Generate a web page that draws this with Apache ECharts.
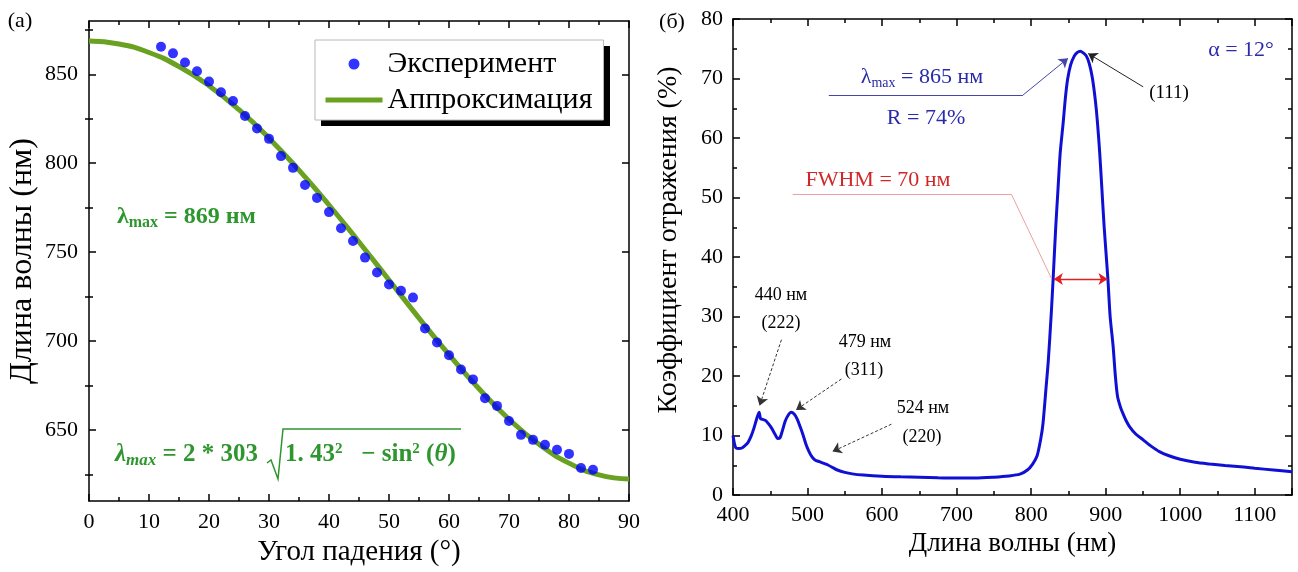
<!DOCTYPE html>
<html>
<head>
<meta charset="utf-8">
<title>Брэгговский пик</title>
<script src="https://cdn.jsdelivr.net/npm/echarts@6/dist/echarts.min.js"></script>
<style>
  html, body { margin: 0; padding: 0; background: #fff; }
  #chart { width: 1298px; height: 572px; }
</style>
</head>
<body>
<div id="chart"></div>
<script>
// (a) угловая зависимость
const expAngle = [12, 14, 16, 18, 20, 22, 24, 26, 28, 30, 32, 34, 36, 38, 40, 42, 44, 46, 48,
  50, 52, 54, 56, 58, 60, 62, 64, 66, 68, 70, 72, 74, 76, 78, 80, 82, 84]
const expLambda = [865.5, 861.8, 856.7, 851.7, 845.9, 839.9, 835.0, 826.6, 819.5, 813.7, 804.0,
  797.4, 787.8, 780.5, 772.5, 763.4, 756.2, 746.9, 738.5, 731.8, 728.3, 724.4, 707.0, 699.2,
  692.0, 684.0, 678.4, 667.8, 663.5, 655.0, 647.2, 644.4, 641.6, 638.8, 636.5, 628.6, 627.6]
const fitAngle = [0, 5, 10, 15, 20, 25, 30, 35, 40, 45, 50, 55, 60, 65, 70, 75, 80, 85, 90]
const fitLambda = [868.7, 867.1, 862.3, 854.4, 843.6, 830.1, 814.1, 796.1, 776.5, 755.7,
  734.3, 712.9, 692.3, 673.1, 656.0, 641.9, 631.3, 624.7, 622.4]
const yTicksA = [650, 700, 750, 800, 850]
const yMinorA = [625, 675, 725, 775, 825, 875]

// (б) спектр отражения
const specWl = [400, 402, 404, 408, 412, 416, 420, 424, 428, 432, 435, 437, 440, 444, 448, 452,
  456, 460, 463, 466, 470, 474, 478, 482, 486, 490, 494, 498, 502, 506, 510, 516, 522, 528, 534,
  540, 550, 560, 575, 600, 625, 650, 675, 700, 725, 750, 770, 785, 795, 802, 808, 813, 816, 820,
  823, 827, 829.5, 833, 836, 839, 843, 846, 849, 853, 858, 862, 866, 870, 874, 878, 882, 886,
  889, 892, 895, 898, 903, 906, 910, 913, 916, 920, 923, 927, 932, 940, 950, 960, 972, 985,
  1000, 1020, 1040, 1060, 1085, 1100, 1125, 1150]
const specR = [10.0, 8.6, 7.9, 7.8, 7.9, 8.3, 8.8, 9.8, 11.2, 12.9, 13.9, 12.8, 12.7, 12.5,
  11.9, 11.2, 10.3, 9.5, 9.6, 10.7, 12.4, 13.4, 13.9, 13.6, 12.8, 11.5, 10.1, 8.5, 7.3, 6.4,
  5.9, 5.6, 5.3, 5.0, 4.6, 4.2, 3.8, 3.55, 3.35, 3.15, 3.05, 3.0, 2.9, 2.85, 2.85, 3.0, 3.2,
  3.5, 4.2, 5.2, 6.6, 9.5, 12.1, 18.0, 22.5, 30.5, 36.3, 45.0, 51.3, 57.5, 62.6, 66.8, 69.9,
  72.3, 73.8, 74.4, 74.6, 74.3, 73.8, 72.5, 70.2, 66.5, 62.6, 57.5, 51.3, 45.0, 36.3, 30.0,
  25.0, 20.0, 16.5, 14.7, 13.75, 12.6, 11.5, 10.3, 9.3, 8.3, 7.3, 6.6, 6.0, 5.5, 5.2, 4.95,
  4.7, 4.5, 4.2, 3.9]

const FONT = 'Liberation Serif'
const BLACK = { color: '#000', width: 1.5 }
const GREEN_TXT = '#2e962e'
const FIT_GREEN = '#6aa121'
const BLUE_TXT = '#2a2aaa'

const chart = echarts.init(document.getElementById('chart'))

// рамка: ось с тиками внутрь, без подписей
const frameAxis = (extra) => Object.assign({
  type: 'value',
  axisLine: { show: true, onZero: false, lineStyle: BLACK },
  axisTick: { show: true, inside: true, length: 7, lineStyle: BLACK },
  minorTick: { show: true, splitNumber: 2, length: 4, lineStyle: BLACK },
  axisLabel: { show: false },
  splitLine: { show: false },
}, extra)

const label = { show: true, fontSize: 22, color: '#000', fontFamily: FONT, formatter: (v) => String(v) }

const arrow = (from, to, style, ends) => [
  { coord: from, lineStyle: style, symbol: ends[0], symbolSize: 9 },
  { coord: to, symbol: ends[1], symbolSize: 9 },
]

chart.setOption({
  animation: false,
  textStyle: { fontFamily: FONT },
  grid: [
    { left: 89, top: 21, width: 540, height: 480 },
    { left: 733, top: 19, width: 559, height: 476 },
  ],
  legend: {
    data: [
      { name: 'Эксперимент' },
      { name: 'Аппроксимация', itemStyle: { opacity: 0 }, lineStyle: { width: 5, color: FIT_GREEN } },
    ],
    orient: 'vertical',
    left: 315,
    top: 40,
    z: 5,
    padding: [9, 11, 5, 8],
    itemGap: 6,
    itemWidth: 57,
    itemHeight: 11,
    selectedMode: false,
    textStyle: { fontSize: 30, color: '#000', fontFamily: FONT },
    backgroundColor: '#fff',
    borderColor: '#b8b8b8',
    borderWidth: 1,
  },
  xAxis: [
    frameAxis({
      gridIndex: 0, min: 0, max: 90, interval: 10, position: 'bottom',
      name: 'Угол падения (°)', nameLocation: 'middle', nameGap: 33,
      nameTextStyle: { fontSize: 29, color: '#000', fontFamily: FONT },
      axisLabel: Object.assign({ margin: 10 }, label),
    }),
    frameAxis({ gridIndex: 0, min: 0, max: 90, interval: 10, position: 'top' }),
    frameAxis({
      gridIndex: 1, min: 400, max: 1150, interval: 100, position: 'bottom',
      name: 'Длина волны (нм)', nameLocation: 'middle', nameGap: 35,
      nameTextStyle: { fontSize: 27, color: '#000', fontFamily: FONT },
      axisLabel: Object.assign({ margin: 9, showMaxLabel: false }, label),
    }),
    frameAxis({ gridIndex: 1, min: 400, max: 1150, interval: 100, position: 'top' }),
  ],
  yAxis: [
    frameAxis({
      gridIndex: 0, min: 610, max: 880, position: 'left',
      name: 'Длина волны (нм)', nameLocation: 'middle', nameGap: 50,
      nameTextStyle: { fontSize: 32, color: '#000', fontFamily: FONT },
      axisTick: { inside: true, length: 7, lineStyle: BLACK, customValues: yTicksA },
      minorTick: { show: false },
      axisLabel: Object.assign({ margin: 11, customValues: yTicksA }, label),
    }),
    frameAxis({
      gridIndex: 0, min: 610, max: 880, position: 'left',
      axisLine: { show: false },
      axisTick: { inside: true, length: 4, lineStyle: BLACK, customValues: yMinorA },
      minorTick: { show: false },
    }),
    frameAxis({
      gridIndex: 0, min: 610, max: 880, position: 'right',
      axisTick: { inside: true, length: 7, lineStyle: BLACK, customValues: yTicksA },
      minorTick: { show: false },
    }),
    frameAxis({
      gridIndex: 0, min: 610, max: 880, position: 'right',
      axisLine: { show: false },
      axisTick: { inside: true, length: 4, lineStyle: BLACK, customValues: yMinorA },
      minorTick: { show: false },
    }),
    frameAxis({
      gridIndex: 1, min: 0, max: 80, interval: 10, position: 'left',
      name: 'Коэффициент отражения (%)', nameLocation: 'middle', nameGap: 50,
      nameTextStyle: { fontSize: 28, color: '#000', fontFamily: FONT, padding: [0, 0, 0, 34] },
      axisLabel: Object.assign({ margin: 10 }, label),
    }),
    frameAxis({ gridIndex: 1, min: 0, max: 80, interval: 10, position: 'right' }),
  ],
  series: [
    {
      name: 'Аппроксимация',
      type: 'line',
      xAxisIndex: 0, yAxisIndex: 0,
      data: fitAngle.map((a, i) => [a, fitLambda[i]]),
      smooth: true,
      symbol: 'none',
      lineStyle: { color: FIT_GREEN, width: 5 },
      itemStyle: { color: FIT_GREEN },
      z: 2,
    },
    {
      name: 'Эксперимент',
      type: 'scatter',
      xAxisIndex: 0, yAxisIndex: 0,
      data: expAngle.map((a, i) => [a, expLambda[i]]),
      symbolSize: 10,
      itemStyle: { color: '#0000ff' },
      z: 3,
    },
    {
      name: 'spectrum',
      type: 'line',
      xAxisIndex: 2, yAxisIndex: 4,
      data: specWl.map((w, i) => [w, specR[i]]),
      smooth: 0.25,
      symbol: 'none',
      lineStyle: { color: '#1010d4', width: 3 },
      markLine: {
        silent: true,
        animation: false,
        label: { show: false },
        emphasis: { disabled: true },
        data: [
          arrow([528.5, 67.2], [788.9, 67.2], { color: '#4646a8', width: 1, type: 'solid' }, ['none', 'none']),
          arrow([788.9, 67.2], [849.5, 73.4], { color: '#4646a8', width: 1, type: 'solid' }, ['none', 'arrow']),
          arrow([950.3, 68.6], [876.5, 74.2], { color: '#222', width: 1, type: 'solid' }, ['none', 'arrow']),
          arrow([480.1, 50.5], [773.7, 50.5], { color: '#eaa0a0', width: 1, type: 'solid' }, ['none', 'none']),
          arrow([773.7, 50.5], [827.6, 36.3], { color: '#eaa0a0', width: 1, type: 'solid' }, ['none', 'none']),
          arrow([830.5, 36.3], [902.5, 36.3], { color: '#e02020', width: 1.3, type: 'solid' }, ['arrow', 'arrow']),
          arrow([465.0, 26.1], [435.6, 15.0], { color: '#333', width: 1, type: [3, 2] }, ['none', 'arrow']),
          arrow([545.5, 19.5], [484.5, 14.3], { color: '#333', width: 1, type: [3, 2] }, ['none', 'arrow']),
          arrow([612.6, 11.9], [533.4, 7.3], { color: '#333', width: 1, type: [3, 2] }, ['none', 'arrow']),
        ],
      },
    },
  ],
  graphic: [
    // тень легенды
    { type: 'rect', z: 1, shape: { x: 321, y: 46, width: 289, height: 80 }, style: { fill: '#000' } },
    // (a)
    { type: 'text', x: 20, y: 21, style: { text: '(a)', font: '22px ' + FONT, fill: '#000', align: 'center', verticalAlign: 'middle' } },
    {
      type: 'text', x: 117, y: 217,
      style: {
        text: '{l|λ}{s|max}{r| = 869 нм}', fill: GREEN_TXT, align: 'left', verticalAlign: 'middle',
        rich: {
          l: { font: 'bold 24px ' + FONT, fill: GREEN_TXT },
          s: { font: 'bold 16px ' + FONT, fill: GREEN_TXT, padding: [12, 0, 0, 0] },
          r: { font: 'bold 24px ' + FONT, fill: GREEN_TXT },
        },
      },
    },
    {
      type: 'text', x: 115, y: 455,
      style: {
        text: '{l|λ}{s|max}{r| = 2 * 303}', fill: GREEN_TXT, align: 'left', verticalAlign: 'middle',
        rich: {
          l: { font: 'italic bold 25px ' + FONT, fill: GREEN_TXT },
          s: { font: 'italic bold 17px ' + FONT, fill: GREEN_TXT, padding: [12, 0, 0, 0] },
          r: { font: 'bold 25px ' + FONT, fill: GREEN_TXT },
        },
      },
    },
    {
      type: 'polyline',
      shape: { points: [[267, 463], [271, 460], [278, 479], [283, 429], [461, 429]] },
      style: { stroke: GREEN_TXT, lineWidth: 1.5, fill: null },
    },
    {
      type: 'text', x: 285, y: 455,
      style: {
        text: '{r|1. 43}{p|2}{r|   − sin}{p|2}{r| (}{t|θ}{r|)}', fill: GREEN_TXT, align: 'left', verticalAlign: 'middle',
        rich: {
          r: { font: 'bold 25px ' + FONT, fill: GREEN_TXT },
          p: { font: 'bold 15px ' + FONT, fill: GREEN_TXT, padding: [0, 0, 12, 0] },
          t: { font: 'italic bold 25px ' + FONT, fill: GREEN_TXT },
        },
      },
    },
    // (б)
    { type: 'text', x: 672, y: 22, style: { text: '(б)', font: '22px ' + FONT, fill: '#000', align: 'center', verticalAlign: 'middle' } },
    { type: 'text', x: 1241, y: 50, style: { text: 'α = 12°', font: '22px ' + FONT, fill: BLUE_TXT, align: 'center', verticalAlign: 'middle' } },
    {
      type: 'text', x: 922, y: 77,
      style: {
        text: '{l|λ}{s|max}{r| = 865 нм}', fill: BLUE_TXT, align: 'center', verticalAlign: 'middle',
        rich: {
          l: { font: '22px ' + FONT, fill: BLUE_TXT },
          s: { font: '14px ' + FONT, fill: BLUE_TXT, padding: [12, 0, 0, 0] },
          r: { font: '22px ' + FONT, fill: BLUE_TXT },
        },
      },
    },
    { type: 'text', x: 926, y: 118, style: { text: 'R = 74%', font: '22px ' + FONT, fill: BLUE_TXT, align: 'center', verticalAlign: 'middle' } },
    { type: 'text', x: 878, y: 180, style: { text: 'FWHM = 70 нм', font: '22px ' + FONT, fill: '#d02828', align: 'center', verticalAlign: 'middle' } },
    { type: 'text', x: 1169, y: 93, style: { text: '(111)', font: '19px ' + FONT, fill: '#000', align: 'center', verticalAlign: 'middle' } },
    { type: 'text', x: 781, y: 295, style: { text: '440 нм', font: '18px ' + FONT, fill: '#000', align: 'center', verticalAlign: 'middle' } },
    { type: 'text', x: 781, y: 323, style: { text: '(222)', font: '18px ' + FONT, fill: '#000', align: 'center', verticalAlign: 'middle' } },
    { type: 'text', x: 865, y: 342, style: { text: '479 нм', font: '18px ' + FONT, fill: '#000', align: 'center', verticalAlign: 'middle' } },
    { type: 'text', x: 864, y: 370, style: { text: '(311)', font: '18px ' + FONT, fill: '#000', align: 'center', verticalAlign: 'middle' } },
    { type: 'text', x: 923, y: 408, style: { text: '524 нм', font: '18px ' + FONT, fill: '#000', align: 'center', verticalAlign: 'middle' } },
    { type: 'text', x: 922, y: 437, style: { text: '(220)', font: '18px ' + FONT, fill: '#000', align: 'center', verticalAlign: 'middle' } },
  ],
})
</script>
</body>
</html>
